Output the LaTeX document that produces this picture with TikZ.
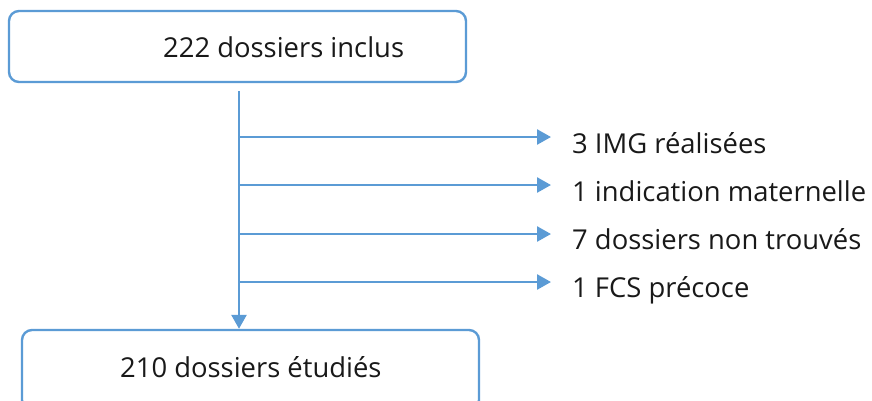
\documentclass[tikz,border=0pt]{standalone}
\usepackage{fontspec}
\setmainfont{Open Sans}
\usetikzlibrary{arrows.meta}
\definecolor{blu}{HTML}{5B9BD5}
\tikzset{
  box/.style={draw=blu, line width=2.4pt, rounded corners=10pt, fill=white, inner sep=0pt},
  lbl/.style={anchor=base west, inner sep=0pt, font=\fontsize{27.4}{32}\selectfont, text=black!90},
  arr/.style={draw=blu, line width=2.6pt, -{Triangle[width=15pt,length=14pt]}}
}
\begin{document}
\begin{tikzpicture}[x=1pt,y=-1pt]
\clip (0,0) rectangle (872,400);
\useasboundingbox (0,0) rectangle (872,400);
\node[box, minimum width=457pt, minimum height=71pt] (top) at (237.5,46.5) {};
\node[lbl] (toptxt) at (163,57) {222 dossiers inclus};
\node[box, minimum width=457pt, minimum height=80pt] (bot) at (250.5,370) {};
\node[lbl] (bottxt) at (120,377) {210 dossiers étudiés};
\coordinate (s) at (239,91);
\draw[arr] (s) -- (s |- bot.north);
\coordinate (b1) at (239,137); \coordinate (e1) at (551,137);
\coordinate (b2) at (239,185); \coordinate (e2) at (551,185);
\coordinate (b3) at (239,234); \coordinate (e3) at (551,234);
\coordinate (b4) at (239,282); \coordinate (e4) at (551,282);
\draw[arr] (b1) -- (e1);
\draw[arr] (b2) -- (e2);
\draw[arr] (b3) -- (e3);
\draw[arr] (b4) -- (e4);
\node[lbl] (t1) at (572,153) {3 IMG réalisées};
\node[lbl] (t2) at (572,201) {1 indication maternelle};
\node[lbl] (t3) at (572,249) {7 dossiers non trouvés};
\node[lbl] (t4) at (572,297) {1 FCS précoce};
\end{tikzpicture}
\end{document}
